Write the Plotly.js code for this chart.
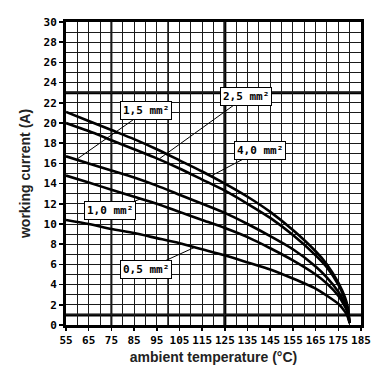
<!DOCTYPE html>
<html>
<head>
<meta charset="utf-8">
<script src="https://cdn.plot.ly/plotly-3.0.1.min.js"></script>
<style>html,body{margin:0;padding:0;background:#fff;}#chart{width:380px;height:380px;}</style>
</head>
<body>
<div id="chart"></div>
<script>
// ambient temperature (°C)
const temps = [55, 65, 75, 85, 95, 105, 115, 125, 135, 145, 155, 165, 170, 175, 178, 179, 180];
// working current (A) per cross-section
const i40 = [21.1, 20.2, 19.3, 18.4, 17.4, 16.3, 15.2, 14.0, 12.7, 11.2, 9.4, 7.3, 6.0, 4.2, 2.7, 1.9, 0.2];
const i25 = [20.0, 19.2, 18.3, 17.4, 16.5, 15.5, 14.4, 13.3, 12.0, 10.6, 8.9, 6.9, 5.7, 4.0, 2.5, 1.8, 0.2];
const i15 = [16.7, 16.0, 15.3, 14.6, 13.8, 12.9, 12.0, 11.1, 10.0, 8.8, 7.5, 5.8, 4.7, 3.3, 2.1, 1.5, 0.2];
const i10 = [14.8, 14.1, 13.4, 12.7, 12.0, 11.2, 10.4, 9.6, 8.7, 7.6, 6.4, 5.0, 4.1, 2.9, 1.8, 1.3, 0.2];
const i05 = [10.4, 10.0, 9.5, 9.1, 8.6, 8.1, 7.5, 6.9, 6.2, 5.5, 4.6, 3.6, 2.9, 2.1, 1.3, 0.9, 0.2];
const seriesNames = ['4,0 mm²', '2,5 mm²', '1,5 mm²', '1,0 mm²', '0,5 mm²'];
const xTickVals = [55, 65, 75, 85, 95, 105, 115, 125, 135, 145, 155, 165, 175, 185];
const yTickVals = [0, 2, 4, 6, 8, 10, 12, 14, 16, 18, 20, 22, 24, 26, 28, 30];
// label placement: [label x, label y, pointed curve x, pointed curve y]
const labelPos = [
  [140.5, 17.3, 119.3, 14.8],
  [134.1, 22.6, 96.4, 16.5],
  [90.2, 21.2, 59.7, 16.4],
  [74.4, 11.3, 88.0, 12.5],
  [90.3, 5.5, 111.8, 7.7]
];

const allSeries = [i40, i25, i15, i10, i05];
const traces = allSeries.map((ys, k) => ({
  x: temps, y: ys, type: 'scatter', mode: 'lines', name: seriesNames[k],
  line: {color: '#000', width: 2.6, shape: 'spline', smoothing: 0.6},
  hoverinfo: 'skip'
}));

const annFont = {family: 'DejaVu Sans Mono', size: 11, color: '#000', weight: 'bold'};
const annotations = labelPos.map((p, k) => ({
  text: '<b>' + seriesNames[k] + '</b>',
  x: p[2], y: p[3], ax: p[0], ay: p[1], xref: 'x', yref: 'y', axref: 'x', ayref: 'y',
  showarrow: true, arrowhead: 0, arrowwidth: 1, arrowcolor: '#000',
  bgcolor: '#fff', bordercolor: '#000', borderwidth: 1, borderpad: 2,
  font: annFont
}));

const thick = (x0, x1, y0, y1, w) => ({type: 'line', xref: 'x', yref: 'y', x0, x1, y0, y1, line: {color: '#000', width: w}, layer: 'below'});
const shapes = [
  thick(55, 185, 23, 23, 3),
  thick(55, 185, 1, 1, 3),
  thick(125, 125, 0, 30, 3),
  thick(75, 75, 0, 30, 2),
  thick(100, 100, 0, 30, 1.6)
];

const tickFont = {family: 'DejaVu Sans Mono', size: 11, color: '#000', weight: 'bold'};
const titleFont = {family: 'Liberation Sans', size: 14, color: '#222', weight: 'bold'};

const layout = {
  width: 380, height: 380,
  margin: {l: 66, r: 19, t: 22, b: 55},
  paper_bgcolor: '#fff', plot_bgcolor: '#fff',
  showlegend: false,
  xaxis: {
    range: [55, 185], tickmode: 'array', tickvals: xTickVals, ticktext: xTickVals.map(String),
    showgrid: true, gridcolor: '#1a1a1a', gridwidth: 1,
    minor: {dtick: 5, tick0: 55, showgrid: true, gridcolor: '#1a1a1a', gridwidth: 1},
    showline: true, linecolor: '#000', linewidth: 3, mirror: true,
    ticks: 'outside', ticklen: 3, tickwidth: 1.5, tickcolor: '#000',
    zeroline: false, tickfont: tickFont,
    title: {text: 'ambient temperature (°C)', font: titleFont, standoff: 6}
  },
  yaxis: {
    range: [0, 30], tickmode: 'array', tickvals: yTickVals, ticktext: yTickVals.map(String),
    showgrid: true, gridcolor: '#1a1a1a', gridwidth: 1,
    minor: {dtick: 1, tick0: 0, showgrid: true, gridcolor: '#1a1a1a', gridwidth: 1},
    showline: true, linecolor: '#000', linewidth: 3, mirror: true,
    ticks: 'outside', ticklen: 4, tickwidth: 1.5, tickcolor: '#000',
    zeroline: false, tickfont: tickFont,
    title: {text: 'working current (A)', font: titleFont, standoff: 10}
  },
  shapes: shapes,
  annotations: annotations
};

Plotly.newPlot('chart', traces, layout, {displayModeBar: false, staticPlot: true});
</script>
</body>
</html>
